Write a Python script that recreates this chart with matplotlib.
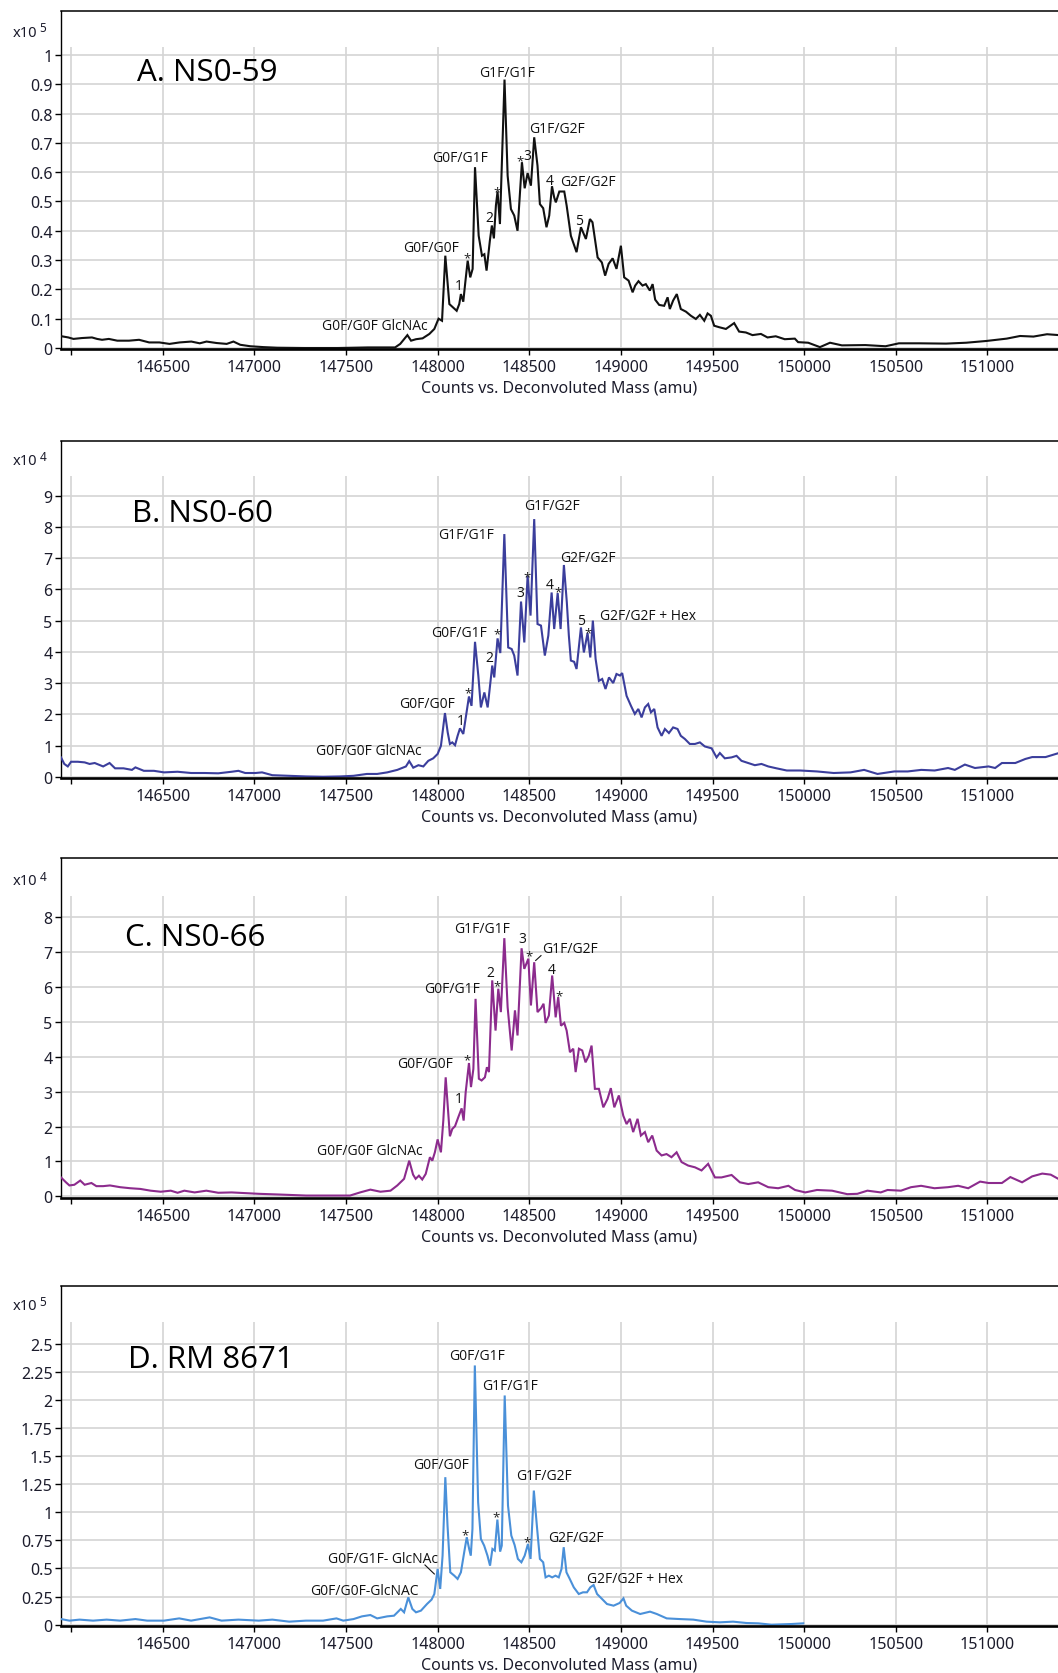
import matplotlib
matplotlib.use('Agg')
import matplotlib.pyplot as plt
from matplotlib.transforms import offset_copy

# ---------------- data ----------------
mass_a = [145949,145985,146013,146059,146114,146142,146169,146206,146252,146316,146371,146426,146482,146537,146592,146656,146702,146739,146794,146849,146886,146923,146978,147051,147125,147272,147456,147621,147768,147796,
          147835,147855,147882,147918,147955,147982,148005,148024,148042,148064,148078,148104,148118,148127,148140,148151,148164,148178,148191,148204,148224,148242,148255,148267,148285,148296,148307,148318,148327,148340,148365,148382,148400,148418,148436,148460,148475,148491,148509,148527,148545,148558,148576,148594,148609,148624,148636,148645,148664,148691,148704,148727,148758,148782,148809,148831,148845,148873,148896,148914,148933,148955,148976,149000,149018,149042,149064,149078,149096,149118,149136,149158,149173,149187,149209,149236,149255,149267,149285,149305,149327,149355,149382,149409,149431,149455,149473,149491,149509,149536,149573,149618,149645,149682,149718,149764,149800,149845,
          149894,149949,149967,150022,150086,150141,150206,150334,150444,150517,150628,150774,150884,150994,151105,151178,151251,151325,151390]
int_a = [0.040,0.036,0.031,0.034,0.036,0.031,0.028,0.031,0.025,0.025,0.028,0.019,0.019,0.014,0.019,0.022,0.016,0.022,0.017,0.014,0.022,0.011,0.006,0.003,0.001,0.0,0.0,0.002,0.002,0.014,
         0.044,0.025,0.030,0.033,0.048,0.065,0.10,0.093,0.315,0.15,0.142,0.127,0.15,0.184,0.158,0.224,0.298,0.241,0.27,0.617,0.383,0.315,0.32,0.264,0.366,0.418,0.374,0.486,0.534,0.423,0.916,0.588,0.474,0.452,0.40,0.634,0.545,0.597,0.554,0.719,0.622,0.491,0.477,0.412,0.452,0.552,0.514,0.497,0.534,0.534,0.486,0.383,0.327,0.412,0.372,0.44,0.429,0.309,0.292,0.247,0.287,0.306,0.27,0.349,0.241,0.23,0.19,0.213,0.228,0.213,0.218,0.196,0.218,0.165,0.147,0.144,0.173,0.133,0.162,0.184,0.133,0.124,0.11,0.099,0.113,0.093,0.118,0.11,0.076,0.071,0.065,0.085,0.056,0.053,0.044,0.048,0.036,0.04,
         0.03,0.032,0.02,0.018,0.003,0.018,0.009,0.01,0.006,0.016,0.016,0.015,0.018,0.024,0.032,0.041,0.039,0.047,0.044]

mass_b = [145945,145963,145982,146000,146037,146074,146101,146129,146175,146210,146240,146286,146332,146351,146397,146452,146507,146581,146655,146729,146803,146876,146913,146950,147006,147042,147098,147190,147282,147375,147467,147541,147614,147670,147725,147780,147827,147845,147867,
          147895,147922,147949,147976,148000,148018,148040,148055,148067,148080,148095,148109,148122,148140,148153,148171,148185,148204,148222,148236,148255,148273,148298,148309,148327,148342,148364,148385,148404,148418,148436,148455,148473,148491,148507,148527,148545,148564,148585,148604,148622,148636,148655,148671,148689,148705,148716,148727,148745,148758,148782,148798,148818,148833,148847,148862,148880,148898,148916,148935,148958,148976,148995,149007,149031,149055,149076,149095,149113,149131,149149,149164,149182,149200,149222,149240,149262,149285,149309,149327,149349,149376,149404,149431,149458,149495,149522,149540,149567,149604,149631,149658,149695,149731,149767,149804,149849,
          149905,149978,150070,150161,150253,150327,150400,150492,150565,150639,150712,150785,150822,150877,150932,151006,151042,151079,151152,151207,151244,151317,151390]
int_b = [0.62,0.41,0.33,0.48,0.48,0.46,0.41,0.44,0.33,0.44,0.27,0.27,0.22,0.30,0.19,0.19,0.14,0.16,0.12,0.12,0.11,0.16,0.19,0.12,0.12,0.14,0.05,0.03,0.01,0.0,0.01,0.03,0.09,0.09,0.14,0.22,0.33,0.50,0.29,
         0.37,0.33,0.51,0.59,0.73,0.99,2.04,1.42,1.05,1.10,1.01,1.31,1.55,1.37,1.87,2.57,2.27,4.32,3.24,2.22,2.70,2.22,3.56,3.18,4.43,3.96,7.77,4.14,4.09,3.88,3.24,5.61,4.30,6.44,5.16,8.25,4.89,4.84,3.88,4.52,5.90,4.73,5.88,4.73,6.78,5.58,4.52,3.72,3.68,3.45,4.78,3.98,4.60,3.82,5.0,3.77,3.07,3.13,2.81,3.18,3.0,3.29,3.24,3.32,2.59,2.27,2.01,2.17,1.90,2.22,2.33,2.06,2.17,1.58,1.31,1.53,1.40,1.58,1.53,1.31,1.21,1.05,1.05,1.10,0.97,0.91,0.62,0.76,0.59,0.62,0.67,0.51,0.44,0.37,0.41,0.33,0.27,
         0.20,0.20,0.17,0.12,0.14,0.22,0.09,0.17,0.17,0.22,0.20,0.28,0.22,0.39,0.28,0.33,0.28,0.44,0.44,0.57,0.63,0.63,0.76]

mass_c = [145945,145972,145991,146018,146050,146074,146111,146138,146175,146212,146268,146323,146378,146434,146489,146544,146581,146618,146674,146738,146803,146876,146950,147024,147135,147282,147430,147522,147577,147633,147688,147743,147780,147817,147845,147866,
          147880,147898,147916,147935,147958,147971,147985,148000,148018,148031,148044,148055,148067,148080,148095,148113,148131,148142,148153,148171,148182,148195,148207,148225,148240,148258,148269,148280,148298,148316,148331,148345,148364,148382,148404,148422,148436,148458,148473,148495,148509,148527,148545,148564,148578,148589,148607,148625,148644,148658,148673,148691,148704,148722,148740,148753,148771,148789,148807,148825,148840,148858,148880,148904,148927,148945,148964,148989,149013,149031,149049,149067,149091,149109,149131,149149,149171,149195,149222,149249,149276,149304,149331,149367,149404,149440,149476,149513,149549,149604,149649,149695,149749,149804,149858,
          149914,149950,150006,150070,150152,150235,150290,150345,150418,150455,150528,150583,150638,150711,150785,150840,150895,150960,151006,151079,151125,151189,151244,151299,151345,151390]
int_c = [0.54,0.40,0.31,0.33,0.45,0.33,0.38,0.29,0.29,0.31,0.26,0.23,0.21,0.16,0.13,0.16,0.10,0.16,0.11,0.16,0.10,0.11,0.09,0.07,0.05,0.02,0.02,0.02,0.11,0.19,0.13,0.16,0.31,0.50,1.02,0.62,
         0.50,0.59,0.48,0.64,1.12,1.02,1.26,1.63,1.26,2.17,3.41,2.60,1.72,1.93,2.01,2.27,2.52,2.17,2.98,3.82,3.13,3.65,5.66,3.37,3.32,3.41,3.70,3.56,6.19,4.75,5.95,5.28,7.40,5.42,4.18,5.33,4.61,7.11,6.52,6.81,5.47,6.71,5.28,5.39,5.52,4.97,5.18,6.33,5.13,5.71,4.89,4.97,4.75,4.13,4.23,3.56,4.23,4.18,3.84,4.03,4.32,3.08,3.08,2.55,2.79,3.10,2.55,2.89,2.31,2.07,2.22,1.84,2.22,1.74,1.84,1.55,1.74,1.31,1.17,1.21,1.12,1.26,0.98,0.88,0.83,0.74,0.93,0.54,0.54,0.61,0.40,0.35,0.40,0.26,0.23,
         0.30,0.18,0.11,0.18,0.16,0.06,0.07,0.16,0.11,0.18,0.16,0.26,0.30,0.23,0.26,0.30,0.23,0.42,0.38,0.38,0.55,0.40,0.57,0.65,0.62,0.49]

mass_d = [145945,145991,146046,146120,146194,146268,146351,146415,146507,146590,146655,146756,146821,146913,147024,147098,147190,147282,147375,147448,147485,147541,147587,147633,147670,147725,147762,147799,147817,147840,147862,
          147882,147909,147942,147967,147982,148000,148014,148027,148042,148054,148069,148091,148109,148127,148145,148159,148172,148181,148190,148203,148221,148236,148254,148272,148286,148299,148312,148326,148341,148350,148366,148384,148402,148420,148438,148457,148475,148493,148507,148525,148543,148558,148576,148589,148607,148625,148643,148661,148676,148688,148703,148721,148743,148770,148793,148815,148833,148851,148870,148897,148924,148960,148993,149014,149029,149060,149105,149159,149196,149250,149322,149395,149467,149540,149612,149685,149750,149821,149931,149995]
int_d = [0.050,0.036,0.045,0.036,0.045,0.036,0.050,0.036,0.036,0.056,0.036,0.065,0.036,0.045,0.036,0.045,0.027,0.036,0.036,0.056,0.036,0.050,0.074,0.086,0.056,0.074,0.080,0.14,0.11,0.243,0.14,
         0.11,0.125,0.184,0.223,0.273,0.496,0.318,0.614,1.312,0.882,0.466,0.436,0.407,0.466,0.644,0.778,0.674,0.614,0.852,2.306,1.089,0.763,0.703,0.614,0.525,0.674,0.659,0.935,0.65,0.703,2.039,1.06,0.793,0.709,0.585,0.555,0.614,0.718,0.585,1.193,0.852,0.585,0.555,0.421,0.436,0.421,0.436,0.421,0.496,0.689,0.466,0.407,0.332,0.273,0.288,0.288,0.332,0.353,0.273,0.229,0.184,0.169,0.193,0.234,0.169,0.125,0.095,0.116,0.095,0.056,0.05,0.045,0.027,0.021,0.027,0.015,0.012,0.0,0.006,0.012]

x_ticks = [146000,146500,147000,147500,148000,148500,149000,149500,150000,150500,151000]
x_tick_labels = ['','146500','147000','147500','148000','148500','149000','149500','150000','150500','151000']

yticks_a = [0,0.1,0.2,0.3,0.4,0.5,0.6,0.7,0.8,0.9,1.0]
ylabels_a = ['0','0.1','0.2','0.3','0.4','0.5','0.6','0.7','0.8','0.9','1']
yticks_b = [0,1,2,3,4,5,6,7,8,9]
ylabels_b = [str(v) for v in yticks_b]
yticks_c = [0,1,2,3,4,5,6,7,8]
ylabels_c = [str(v) for v in yticks_c]
yticks_d = [0,0.25,0.5,0.75,1.0,1.25,1.5,1.75,2.0,2.25,2.5]
ylabels_d = ['0','0.25','0.5','0.75','1','1.25','1.5','1.75','2','2.25','2.5']

titles = ['A. NS0-59', 'B. NS0-60', 'C. NS0-66', 'D. RM 8671']
exponents = ['5', '4', '4', '5']

ann_a_text = ['G1F/G1F','G1F/G2F','G0F/G1F','*','3','4','G2F/G2F','*','2','5','G0F/G0F','*','1','G0F/G0F GlcNAc']
ann_a_x = [148378,148654,148125,148449,148491,148609,148820,148322,148282,148773,147964,148158,148118,147658]
ann_a_y = [0.941,0.750,0.651,0.651,0.656,0.571,0.568,0.548,0.446,0.435,0.344,0.321,0.213,0.076]

ann_b_text = ['G1F/G2F','G1F/G1F','G2F/G2F','*','3','4','*','5','*','G2F/G2F + Hex','G0F/G1F','*','2','*','G0F/G0F','1','G0F/G0F GlcNAc']
ann_b_x = [148624,148156,148822,148489,148449,148613,148655,148782,148822,149149,148115,148322,148280,148164,147945,148124,147627]
ann_b_y = [8.70,7.77,7.03,6.52,5.90,6.14,6.06,5.00,4.73,5.16,4.62,4.71,3.82,2.81,2.33,1.79,0.83]

ann_c_text = ['G1F/G1F','3','*','G1F/G2F','2','*','4','*','G0F/G1F','*','G0F/G0F','1','G0F/G0F GlcNAc']
ann_c_x = [148242,148462,148498,148724,148285,148325,148622,148662,148078,148160,147929,148118,147629]
ann_c_y = [7.69,7.38,7.02,7.11,6.41,6.14,6.50,5.85,5.95,4.03,3.80,2.79,1.31]
leader_c_x = [148564,148535]
leader_c_y = [6.90,6.76]

ann_d_text = ['G0F/G1F','G1F/G1F','G0F/G0F','G1F/G2F','*','*','*','G2F/G2F','G0F/G1F- GlcNAc','G2F/G2F + Hex','G0F/G0F-GlcNAC']
ann_d_x = [148217,148397,148020,148582,148150,148317,148486,148754,147701,149076,147603]
ann_d_y = [2.395,2.128,1.422,1.327,0.837,0.994,0.769,0.778,0.585,0.413,0.303]
leader_d_x = [147931,147982]
leader_d_y = [0.531,0.451]

# ---------------- layout / style ----------------
W, H = 1058, 1674
fig = plt.figure(figsize=(W/100, H/100), dpi=100)
fig.patch.set_facecolor('white')

left = 61 / W
width = (W - 61) / W
xlim = (145945, 151385)

panels = [
    dict(mass=mass_a, inten=int_a, color='#111111', top=11.7, bottom=350.0, ylim=(-0.0034, 1.151),
         yt=yticks_a, yl=ylabels_a, gtop=1.026, tx=0.076, ty=0.819,
         at=ann_a_text, ax_=ann_a_x, ay=ann_a_y, lead=None, ey=0.937),
    dict(mass=mass_b, inten=int_b, color='#3b3e9c', top=441.7, bottom=779.0, ylim=(-0.04, 10.76),
         yt=yticks_b, yl=ylabels_b, gtop=9.64, tx=0.071, ty=0.786,
         at=ann_b_text, ax_=ann_b_x, ay=ann_b_y, lead=None, ey=0.941),
    dict(mass=mass_c, inten=int_c, color='#8c2b8d', top=859.3, bottom=1199.0, ylim=(-0.05, 9.69),
         yt=yticks_c, yl=ylabels_c, gtop=8.62, tx=0.064, ty=0.767,
         at=ann_c_text, ax_=ann_c_x, ay=ann_c_y, lead=(leader_c_x, leader_c_y), ey=0.934),
    dict(mass=mass_d, inten=int_d, color='#4a90d9', top=1287.3, bottom=1626.7, ylim=(-0.009, 3.01),
         yt=yticks_d, yl=ylabels_d, gtop=2.69, tx=0.067, ty=0.786,
         at=ann_d_text, ax_=ann_d_x, ay=ann_d_y, lead=(leader_d_x, leader_d_y), ey=0.943),
]

tick_font = 'Noto Sans'
ann_font = 'Open Sans'

for i, p in enumerate(panels):
    b = 1 - p['bottom'] / H
    h = (p['bottom'] - p['top']) / H
    ax = fig.add_axes([left, b, width, h])
    ax.set_xlim(*xlim)
    ax.set_ylim(*p['ylim'])
    ax.set_facecolor('white')

    # grid
    for yv in p['yt']:
        ax.axhline(yv, color='#d4d4d4', lw=1.2, zorder=0)
    ax.vlines(x_ticks, p['ylim'][0], p['gtop'], color='#d4d4d4', lw=1.2, zorder=0)

    ax.plot(p['mass'], p['inten'], color=p['color'], lw=1.5, zorder=3, solid_joinstyle='miter')

    # spines
    ax.spines['right'].set_visible(False)
    ax.spines['top'].set_linewidth(1.1)
    ax.spines['left'].set_linewidth(1.0)
    ax.spines['bottom'].set_linewidth(1.9)
    for s in ax.spines.values():
        s.set_color('black')
    ax.spines['bottom'].set_zorder(4)

    ax.set_xticks(x_ticks)
    ax.set_xticklabels(x_tick_labels, fontsize=11.5, family=tick_font, color='#1c1c2c')
    ax.set_yticks(p['yt'])
    ax.set_yticklabels(p['yl'], fontsize=11.5, family=tick_font, color='#1c1c2c')
    ax.tick_params(axis='x', direction='out', length=4, width=1, pad=3.5)
    ax.tick_params(axis='y', direction='out', length=4, width=1, pad=2)
    ax.set_xlabel('Counts vs. Deconvoluted Mass (amu)', fontsize=11.5, family=tick_font,
                  color='#1c1c2c', labelpad=3)

    # title
    ax.text(p['tx'], p['ty'], titles[i], transform=ax.transAxes, fontsize=22.5,
            family=ann_font, ha='left', va='center', color='black')

    # multiplier
    ax.text(-0.048, p['ey'], 'x10', transform=ax.transAxes, fontsize=10.5,
            family=tick_font, ha='left', va='center', color='#1c1c2c')
    ax.text(-0.0215, p['ey'] + 0.012, exponents[i], transform=ax.transAxes, fontsize=8.5,
            family=tick_font, ha='left', va='center', color='#1c1c2c')

    # annotations
    star_tr = offset_copy(ax.transData, fig=fig, x=0, y=-4, units='dots')
    for t, xv, yv in zip(p['at'], p['ax_'], p['ay']):
        if t == '*':
            ax.text(xv, yv, t, transform=star_tr, fontsize=9.5, family=ann_font,
                    ha='center', va='center', color='#222222', zorder=5)
        else:
            ax.text(xv, yv, t, fontsize=10, family=ann_font, ha='center', va='center',
                    color='#111111', zorder=5)
    if p['lead'] is not None:
        ax.plot(p['lead'][0], p['lead'][1], color='#111111', lw=0.8, zorder=5)

fig.savefig('out.png', dpi=100, facecolor='white')
